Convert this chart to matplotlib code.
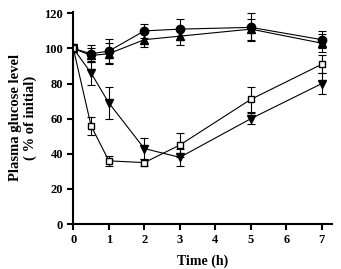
import matplotlib
matplotlib.use("Agg")
import matplotlib.pyplot as plt

plt.rcParams["font.family"] = ["Liberation Serif", "DejaVu Serif"]
plt.rcParams["font.weight"] = "bold"

# ---- data ----
time_h = [0, 0.5, 1, 2, 3, 5, 7]

circ = [100, 97, 98.5, 110, 111, 112, 105]
circ_err = [2, 5, 7, 4, 6, 8, 5]

tri_up = [100, 96, 97, 105, 107, 111, 103]
tri_up_err = [2, 4, 6, 4, 5, 6, 5]

tri_dn = [100, 86, 69, 43, 38, 60, 80]
tri_dn_err = [2, 7, 9, 6, 5, 3, 6]

sq = [100, 56, 36, 35, 45, 71, 91]
sq_err = [2, 5, 3, 2, 7, 7, 5]

fig = plt.figure(figsize=(3.41, 2.69), dpi=100)
ax = fig.add_axes([0.215, 0.167, 0.76, 0.79])

common = dict(color="black", lw=0.8, capsize=3, elinewidth=0.8, capthick=0.8, markersize=6)
ax.errorbar(time_h, circ, yerr=circ_err, marker="o", **common)
ax.errorbar(time_h, tri_up, yerr=tri_up_err, marker="^", **common)
ax.errorbar(time_h, tri_dn, yerr=tri_dn_err, marker="v", **common)
ax.errorbar(time_h, sq, yerr=sq_err, marker="s", mfc="white", mec="black",
            **{**common, "markersize": 5})

ax.set_xlim(0, 7.3)
ax.set_ylim(0, 121)
ax.set_xticks(range(0, 8))
ax.set_yticks(range(0, 121, 20))

for s in ["top", "right"]:
    ax.spines[s].set_visible(False)
for s in ["left", "bottom"]:
    ax.spines[s].set_linewidth(1.5)
ax.tick_params(width=1.5, length=4, labelsize=9)
for lbl in ax.get_xticklabels() + ax.get_yticklabels():
    lbl.set_fontweight("bold")

ax.set_xlabel("Time (h)", fontsize=10, fontweight="bold", labelpad=6)
ax.set_ylabel("Plasma glucose level\n( % of initial)", fontsize=10.5, fontweight="bold", labelpad=5)

fig.savefig("out.png", dpi=100)
